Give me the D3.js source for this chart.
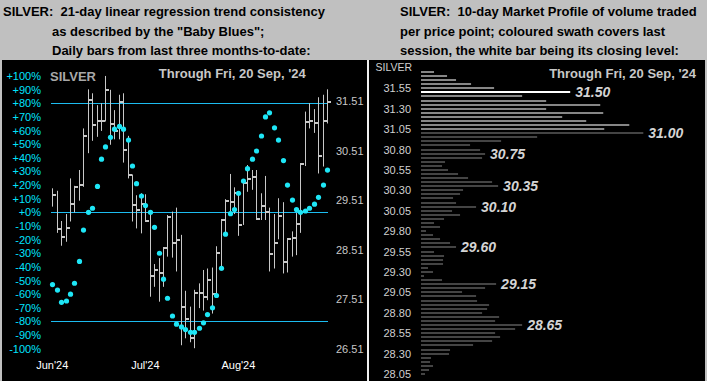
<!DOCTYPE html>
<html><head><meta charset="utf-8">
<script src="https://cdn.jsdelivr.net/npm/d3@7"></script>
<style>
body{margin:0;background:#c0c0c0;}
svg{display:block;}
text{font-family:"Liberation Sans",Arial,sans-serif;}
</style>
</head><body><svg id="c" width="707" height="381"></svg>
<script>
// ---------- Left chart data (daily bars) ----------
const highs = [29.75,29.70,29.09,29.23,29.95,29.80,30.12,30.96,31.75,31.67,31.43,31.47,32.02,31.74,31.33,31.64,31.67,30.81,30.03,29.61,29.65,29.63,29.28,28.22,28.34,28.56,29.21,29.28,29.36,28.81,27.68,27.36,27.70,27.83,28.10,28.13,28.15,28.58,29.11,29.53,30.04,29.77,29.68,29.88,30.22,30.12,30.12,29.65,30.00,29.36,29.23,29.55,29.47,28.72,28.88,29.25,30.26,31.30,31.47,31.35,31.59,31.64,31.75];
const lows = [29.38,28.85,28.59,28.67,29.08,29.26,29.50,29.78,30.46,30.71,30.79,30.91,31.10,30.63,30.74,30.74,30.27,29.95,29.08,28.94,28.84,29.08,27.56,27.76,27.46,27.76,28.37,28.35,28.07,26.58,26.72,26.64,26.52,27.33,27.28,27.49,27.22,27.56,28.09,28.84,29.21,29.23,28.79,29.01,29.68,29.72,29.11,29.11,29.11,28.07,28.13,28.72,28.03,28.05,28.37,28.40,28.85,30.20,30.96,30.87,30.05,30.19,31.06];
const closes = [29.61,28.93,28.77,28.95,29.43,29.78,29.82,30.81,31.53,31.03,31.10,31.10,31.74,31.04,30.91,31.50,30.52,30.02,29.41,29.31,29.43,29.09,27.98,28.09,28.03,28.54,29.18,28.65,28.71,27.36,27.10,26.72,27.63,27.63,27.55,27.90,27.61,28.44,29.10,29.50,29.48,29.65,29.00,29.86,29.93,29.98,29.13,29.40,29.27,28.42,28.65,29.19,28.27,28.72,28.74,29.02,30.24,31.08,31.10,31.06,30.41,31.12,31.50];
// "Baby Blues" trend consistency, percent
const trendPct = [-53,-57,-66,-65,-60,-52,-36,-13,0,3,19,39,48,55,61,63,61,53,34,21,12,5,0,-11,-30,-49,-63,-76,-82,-84,-86,-88,-88,-85,-81,-75,-70,-61,-41,-16,-1,2,14,23,32,39,45,56,70,73,62,53,38,20,9,2,0,1,3,6,11,20,31];
const pctTicks = [100,90,80,70,60,50,40,30,20,10,0,-10,-20,-30,-40,-50,-60,-70,-80,-90,-100];
const pctRefLines = [80,0,-80];
const priceTicks = [31.51,30.51,29.51,28.51,27.51,26.51];
const monthLabels = ["Jun'24","Jul'24","Aug'24"];
const monthBarIndex = [0,21,42];

// ---------- Right chart data (10-day market profile) ----------
const profileLevels = [31.75,31.70,31.65,31.60,31.55,31.50,31.45,31.40,31.35,31.30,31.25,31.20,31.15,31.10,31.05,
  31.00,30.95,30.90,30.85,30.80,30.75,30.70,30.65,30.60,30.55,30.50,30.45,30.40,30.35,30.30,30.25,30.20,30.15,30.10,30.05,
  30.00,29.95,29.90,29.85,29.80,29.75,29.70,29.65,29.60,29.55,29.50,29.45,29.40,29.35,29.30,29.25,29.20,29.15,29.10,29.05,
  29.00,28.95,28.90,28.85,28.80,28.75,28.70,28.65,28.60,28.55,28.50,28.45,28.40,28.35,28.30,28.25,28.20,28.15,28.10,28.05];
const profileVolumes = [13,26,35,50,73,149,101,125,179,125,182,141,165,208,183,
  222,116,80,49,59,64,61,24,21,27,37,47,71,77,42,39,32,35,55,31,
  39,23,13,19,5,12,19,29,35,13,23,22,22,7,12,3,21,75,64,41,
  55,56,68,66,61,78,74,101,94,74,79,71,52,29,28,10,9,12,8,4];
const profileTicks = [31.55,31.30,31.05,30.80,30.55,30.30,30.05,29.80,29.55,29.30,29.05,28.80,28.55,28.30,28.05];
const profilePeaks = [31.50,31.00,30.75,30.35,30.10,29.60,29.15,28.65];

const titleLeft = ["SILVER: \u00a021-day linear regression trend consistency","as described by the \"Baby Blues\";","Daily bars from last three months-to-date:"];
const titleRight = ["SILVER: \u00a010-day Market Profile of volume traded","per price point; coloured swath covers last","session, the white bar being its closing level:"];
const asOf = "Through Fri, 20 Sep, '24";

// ---------- Drawing ----------
const svg = d3.select("#c");
svg.append("rect").attr("width",707).attr("height",381).attr("fill","#c0c0c0");

// titles
const tl = svg.append("g").attr("font-size",13).attr("font-weight","bold").attr("fill","#000");
titleLeft.forEach((t,i)=>tl.append("text").attr("x", i===0?3:52).attr("y",[16,35.5,54.5][i]).text(t));
titleRight.forEach((t,i)=>tl.append("text").attr("x",400).attr("y",[16,35.5,54.5][i]).text(t));

// panels
svg.append("rect").attr("x",2).attr("y",60).attr("width",365).attr("height",321).attr("fill","#000");
svg.append("rect").attr("x",369).attr("y",60).attr("width",336).attr("height",321).attr("fill","#000");
svg.append("rect").attr("x",367).attr("y",60).attr("width",2).attr("height",321).attr("fill","#f0f0f0");

// ---- left chart scales
const x = d3.scaleLinear().domain([0, highs.length-1]).range([52.3, 327]);
const yPct = d3.scaleLinear().domain([-100,100]).range([348.7,76]);
const yPx = d3.scaleLinear().domain([26.51,31.51]).range([348.7,101.2]);

const L = svg.append("g");
// percent axis labels
L.append("g").selectAll("text").data(pctTicks).join("text")
  .attr("x",41).attr("y",d=>yPct(d)+4).attr("text-anchor","end")
  .attr("font-size",11).attr("fill","#00e4ff")
  .text(d=>(d>=0?"+":"")+d+"%");
// reference lines
L.append("g").selectAll("line").data(pctRefLines).join("line")
  .attr("x1",51).attr("x2",328)
  .attr("y1",d=>Math.round(yPct(d))+0.5).attr("y2",d=>Math.round(yPct(d))+0.5)
  .attr("stroke","#1cbcf0").attr("stroke-width",1);
// price labels
L.append("g").selectAll("text").data(priceTicks).join("text")
  .attr("x",336).attr("y",d=>yPx(d)+4).attr("font-size",11).attr("fill","#c8c8c8")
  .text(d=>d.toFixed(2));
// month labels
L.append("g").selectAll("text").data(monthLabels).join("text")
  .attr("x",(d,i)=>x(monthBarIndex[i])).attr("y",369).attr("text-anchor","middle")
  .attr("font-size",11).attr("fill","#fff").text(d=>d);
// SILVER + date
L.append("text").attr("x",50).attr("y",81).attr("font-size",13).attr("font-weight","bold").attr("fill","#a8a8a8").text("SILVER");
L.append("text").attr("x",305.7).attr("y",78).attr("text-anchor","end").attr("font-size",13).attr("font-weight","bold").attr("fill","#c8c8c8").text(asOf);

// bars
const bars = L.append("g");
highs.forEach((h,i)=>{
  const xi = Math.round(x(i))+0.5;
  bars.append("line").attr("x1",xi).attr("x2",xi).attr("y1",yPx(h)).attr("y2",yPx(lows[i]))
    .attr("stroke","#c8c8c8").attr("stroke-width",1);
  bars.append("rect").attr("x",xi-0.5).attr("y",Math.round(yPx(closes[i]))-1).attr("width",4).attr("height",2)
    .attr("fill","#c8c8c8");
});
// blue dots
L.append("g").selectAll("circle").data(trendPct).join("circle")
  .attr("cx",(d,i)=>Math.round(x(i))+0.5).attr("cy",d=>yPct(d)).attr("r",2.6).attr("fill","#1ee6f6");

// ---- right chart
const yP = d3.scaleLinear().domain([28.05,31.55]).range([374,88.3]);
const xV = d3.scaleLinear().domain([0,d3.max(profileVolumes)]).range([421,643.3]);
const R = svg.append("g");
R.append("text").attr("x",375.5).attr("y",70.7).attr("font-size",10.5).attr("fill","#d0d0d0").text("SILVER");
R.append("text").attr("x",696).attr("y",78).attr("text-anchor","end").attr("font-size",13).attr("font-weight","bold").attr("fill","#c8c8c8").text(asOf);
R.append("g").selectAll("text").data(profileTicks).join("text")
  .attr("x",411).attr("y",d=>yP(d)+4).attr("text-anchor","end").attr("font-size",11).attr("fill","#d0d0d0")
  .text(d=>d.toFixed(2));

const lastI = closes.length-1;
const swLow = Math.round(lows[lastI]*20)/20, swHigh = Math.round(highs[lastI]*20)/20;
const closeLvl = Math.round(closes[lastI]*20)/20;
R.append("g").selectAll("rect").data(profileLevels).join("rect")
  .attr("x",421).attr("y",d=>Math.round(yP(d))-1).attr("height",2)
  .attr("width",(d,i)=>xV(profileVolumes[i])-421)
  .attr("fill",d=>Math.abs(d-closeLvl)<1e-6?"#ffffff":(d>=swLow-1e-6&&d<=swHigh+1e-6?"#868686":"#444444"));
R.append("g").selectAll("text").data(profilePeaks).join("text")
  .attr("x",d=>xV(profileVolumes[profileLevels.findIndex(l=>Math.abs(l-d)<1e-6)])+5)
  .attr("y",d=>yP(d)+5).attr("font-size",14).attr("font-weight","bold").attr("font-style","italic")
  .attr("fill","#d4d4d4").text(d=>d.toFixed(2));
</script>
</body></html>
